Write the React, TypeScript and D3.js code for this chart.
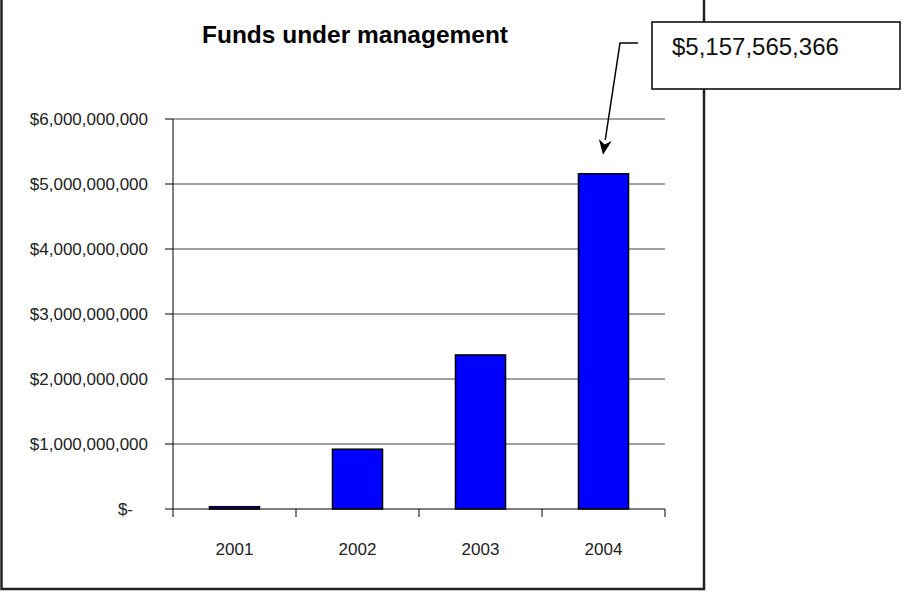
import React from "react";
import * as d3 from "d3";

// Funds under management by year (US$)
const years = ["2001", "2002", "2003", "2004"];
const funds = [35000000, 920000000, 2370000000, 5157565366];
const yTicks = [0, 1e9, 2e9, 3e9, 4e9, 5e9, 6e9];
const title = "Funds under management";
const calloutYear = "2004";

const W = 907;
const H = 592;
const plot = { left: 173, right: 665, top: 119, bottom: 509 };
const FONT = "'Liberation Sans', Arial, sans-serif";

export default function App() {
  const x = d3
    .scaleBand<string>()
    .domain(years)
    .range([plot.left, plot.right])
    .paddingInner(0.593)
    .paddingOuter(0.2965);
  const y = d3.scaleLinear().domain([0, 6e9]).range([plot.bottom, plot.top]);

  const money = d3.format("$,");
  const tickLabel = (v: number) => (v === 0 ? "$-" : money(v));

  const step = x.step();
  const boundaries = d3.range(years.length + 1).map((i) => plot.left + i * step);

  // callout leader line, ending in an arrowhead above the highlighted bar
  const ci = years.indexOf(calloutYear);
  const cv = funds[ci];
  const tipX = (x(calloutYear) as number) + x.bandwidth() / 2 - 0.5;
  const tipY = y(cv) - 19;
  const elbow = { x: 620, y: 43 };
  const start = { x: 638, y: 43 };
  const dx = tipX - elbow.x;
  const dy = tipY - elbow.y;
  const len = Math.hypot(dx, dy);
  const ux = dx / len;
  const uy = dy / len;
  const headL = 15;
  const headW = 6.5;
  const bx = tipX - ux * headL;
  const by = tipY - uy * headL;
  const head = [
    [tipX, tipY],
    [bx - uy * headW, by + ux * headW],
    [tipX - ux * headL * 0.7, tipY - uy * headL * 0.7],
    [bx + uy * headW, by - ux * headW],
  ]
    .map((p) => p.join(","))
    .join(" ");

  return (
    <svg
      width={W}
      height={H}
      style={{ position: "absolute", left: 0, top: 0, background: "#fff" }}
      fontFamily={FONT}
    >
      {/* chart frame */}
      <rect x={1.5} y={-20} width={702.5} height={609} fill="#fff" stroke="#222" strokeWidth={2.5} />

      <text
        x={355}
        y={43}
        textAnchor="middle"
        fontSize={24}
        fontWeight="bold"
        textLength={306}
        lengthAdjust="spacingAndGlyphs"
        fill="#000"
      >
        {title}
      </text>

      {/* gridlines */}
      {yTicks.slice(1).map((t) => (
        <line key={"g" + t} x1={plot.left} x2={plot.right} y1={y(t)} y2={y(t)} stroke="#444" strokeWidth={1} />
      ))}

      {/* bars */}
      {years.map((yr, i) => (
        <rect
          key={yr}
          x={x(yr)}
          y={y(funds[i])}
          width={x.bandwidth()}
          height={plot.bottom - y(funds[i])}
          fill="#0000ff"
          stroke="#000"
          strokeWidth={1.5}
        />
      ))}

      {/* y axis */}
      <line x1={plot.left} x2={plot.left} y1={plot.top} y2={plot.bottom} stroke="#000" strokeWidth={1} />
      {yTicks.map((t) => (
        <g key={"y" + t}>
          <line x1={plot.left - 8} x2={plot.left} y1={y(t)} y2={y(t)} stroke="#000" strokeWidth={1} />
          <text
            x={t === 0 ? 133 : 148}
            y={y(t)}
            dy="0.36em"
            textAnchor="end"
            fontSize={17}
            fill="#222"
          >
            {tickLabel(t)}
          </text>
        </g>
      ))}

      {/* x axis */}
      <line x1={plot.left} x2={plot.right} y1={plot.bottom} y2={plot.bottom} stroke="#000" strokeWidth={1} />
      {boundaries.map((bx0, i) => (
        <line key={"xt" + i} x1={bx0} x2={bx0} y1={plot.bottom} y2={plot.bottom + 8} stroke="#000" strokeWidth={1} />
      ))}
      {years.map((yr) => (
        <text
          key={"xl" + yr}
          x={(x(yr) as number) + x.bandwidth() / 2}
          y={555}
          textAnchor="middle"
          fontSize={17}
          fill="#222"
        >
          {yr}
        </text>
      ))}

      {/* callout */}
      <rect x={652} y={22} width={248} height={67} fill="#fff" stroke="#000" strokeWidth={1.5} />
      <text x={672} y={55} fontSize={24} fill="#111">
        {money(cv)}
      </text>
      <polyline
        points={`${start.x},${start.y} ${elbow.x},${elbow.y} ${bx},${by}`}
        fill="none"
        stroke="#000"
        strokeWidth={1.5}
      />
      <polygon points={head} fill="#000" />
    </svg>
  );
}
